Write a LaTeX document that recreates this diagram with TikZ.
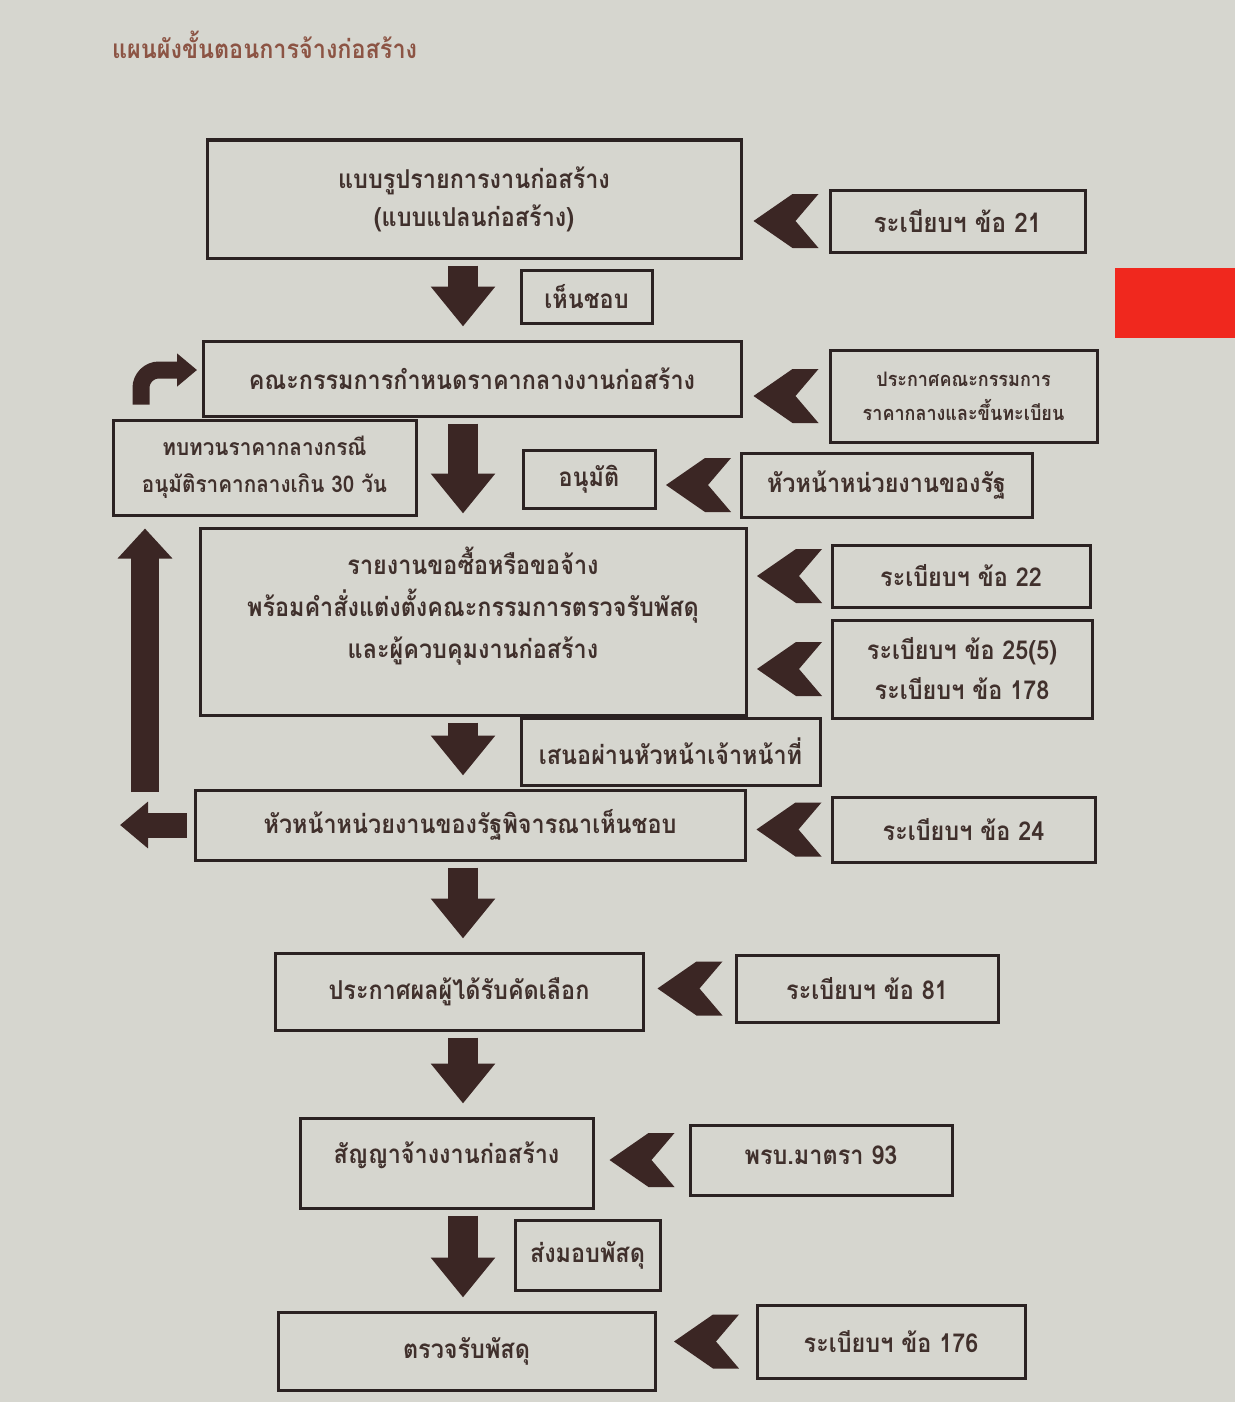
\documentclass[tikz,border=0pt]{standalone}
\usepackage{fontspec}
\newfontfamily\thai[Script=Thai, FakeStretch=0.9]{Loma}
\usetikzlibrary{arrows.meta,calc}
\definecolor{bg}{HTML}{D6D6CF}
\definecolor{linec}{HTML}{2B2222}
\definecolor{arrowc}{HTML}{3B2624}
\definecolor{textc}{HTML}{40302C}
\definecolor{titlec}{HTML}{8C5444}
\definecolor{redtab}{HTML}{F0281E}
\tikzset{
  box/.style={draw=linec, line width=1.5pt, fill=bg, align=center, inner sep=0pt, text=textc},
  boxtext/.style={align=center, inner sep=0pt, text=textc},
  downarrow/.style={draw=arrowc, line width=15pt, -{Triangle[width=31pt,length=20pt]}, shorten <=3pt, shorten >=6.5pt},
  uparrow/.style={draw=arrowc, line width=14pt, -{Triangle[width=26.5pt,length=15pt]}},
  leftarrow/.style={draw=arrowc, line width=12.5pt, -{Triangle[width=22.5pt,length=14pt]}},
  turnarrow/.style={draw=arrowc, line width=8.5pt, rounded corners=9pt, -{Triangle[width=16pt,length=10pt]}},
  chev/.pic={\fill[arrowc] (-32,0) -- (7,-27) -- (33,-27) -- (10,0) -- (33,27) -- (7,27) -- cycle;}
}
\begin{document}
\begin{tikzpicture}[x=0.5pt,y=-0.5pt, font=\thai\bfseries\fontsize{13}{19}\selectfont]
\fill[bg] (0,0) rectangle (1235,1402);
\useasboundingbox (0,0) rectangle (1235,1402);
\fill[redtab] (1115,268) rectangle (1235,338);

\node[anchor=west, text=titlec, font=\thai\bfseries\fontsize{13}{15}\selectfont] (title) at (105,45) {แผนผังขั้นตอนการจ้างก่อสร้าง};

% main column
\node[box, minimum width=267pt, minimum height=59pt] (box1) at (474,199) {แบบรูปรายการงานก่อสร้าง\\(แบบแปลนก่อสร้าง)};
\node[box, minimum width=269pt, minimum height=37.5pt] (box2) at (472,378.5) {คณะกรรมการกำหนดราคากลางงานก่อสร้าง};
\node[box, minimum width=273pt, minimum height=93.5pt] (box3) at (473,621.5) {};
\node[boxtext, font=\thai\bfseries\fontsize{13}{21}\selectfont] (box3t) at (473,606) {รายงานขอซื้อหรือขอจ้าง\\พร้อมคำสั่งแต่งตั้งคณะกรรมการตรวจรับพัสดุ\\และผู้ควบคุมงานก่อสร้าง};
\node[box, minimum width=275pt, minimum height=35pt] (box4) at (470,825) {หัวหน้าหน่วยงานของรัฐพิจารณาเห็นชอบ};
\node[box, minimum width=184pt, minimum height=38.5pt] (box5) at (459,991.5) {ประกาศผลผู้ได้รับคัดเลือก};
\node[box, minimum width=146.5pt, minimum height=45pt] (box6) at (446.5,1163) {};
\node[boxtext] (box6t) at (446.5,1155) {สัญญาจ้างงานก่อสร้าง};
\node[box, minimum width=188.5pt, minimum height=39pt] (box7) at (466.5,1351) {ตรวจรับพัสดุ};

% side boxes
\node[box, minimum width=151.5pt, minimum height=47.5pt, font=\thai\bfseries\fontsize{11.5}{18.5}\selectfont] (lb) at (264.5,467.5) {ทบทวนราคากลางกรณี\\อนุมัติราคากลางเกิน 30 วัน};
\node[box, minimum width=65.5pt, minimum height=26.5pt] (ok1) at (586.5,296.5) {เห็นชอบ};
\node[box, minimum width=66pt, minimum height=29pt] (appr) at (589,479) {อนุมัติ};
\node[box, minimum width=145.5pt, minimum height=32pt] (head) at (886.5,485) {หัวหน้าหน่วยงานของรัฐ};
\node[box, minimum width=149.5pt, minimum height=33.5pt] (prop) at (670.5,751.5) {เสนอผ่านหัวหน้าเจ้าหน้าที่};
\node[box, minimum width=72.5pt, minimum height=35pt] (deliv) at (587.5,1255) {ส่งมอบพัสดุ};

% rule boxes
\node[box, minimum width=127.5pt, minimum height=31pt, font=\thai\bfseries\fontsize{13.5}{19}\selectfont] (r1) at (957.5,221) {ระเบียบฯ ข้อ 21};
\node[box, minimum width=133.5pt, minimum height=46pt, font=\thai\bfseries\fontsize{10}{17}\selectfont] (r2) at (963.5,396) {ประกาศคณะกรรมการ\\ราคากลางและขึ้นทะเบียน};
\node[box, minimum width=129pt, minimum height=31pt] (r3) at (961,576) {ระเบียบฯ ข้อ 22};
\node[box, minimum width=130pt, minimum height=49pt, font=\thai\bfseries\fontsize{13}{20}\selectfont] (r4) at (962,669) {ระเบียบฯ ข้อ 25(5)\\ระเบียบฯ ข้อ 178};
\node[box, minimum width=131.5pt, minimum height=32.5pt] (r5) at (963.5,829.5) {ระเบียบฯ ข้อ 24};
\node[box, minimum width=131pt, minimum height=33.5pt] (r6) at (867,988.5) {ระเบียบฯ ข้อ 81};
\node[box, minimum width=131pt, minimum height=35pt] (r7) at (821,1160) {};
\node[boxtext] (r7t) at (821,1155) {พรบ.มาตรา 93};
\node[box, minimum width=134pt, minimum height=36.5pt] (r8) at (891,1341.5) {ระเบียบฯ ข้อ 176};

% chevrons
\pic at ($(box1.east |- r1.center)!0.5!(r1.west)$) {chev};
\pic at ($(box2.east |- r2.center)!0.5!(r2.west)$) {chev};
\pic at ($(appr.east |- head.center)!0.5!(head.west)$) {chev};
\pic at ($(box3.east |- r3.center)!0.5!(r3.west)$) {chev};
\pic at ($(box3.east |- r4.center)!0.5!(r4.west)$) {chev};
\pic at ($(box4.east |- r5.center)!0.5!(r5.west)$) {chev};
\pic at ($(box5.east |- r6.center)!0.5!(r6.west)$) {chev};
\pic at ($(box6.east |- r7.center)!0.5!(r7.west)$) {chev};
\pic at ($(box7.east |- r8.center)!0.5!(r8.west)$) {chev};

% axes for arrows
\coordinate (ax) at (463,0);
\coordinate (upx) at (145,0);
\coordinate (upstart) at (145,792);
\coordinate (leftend) at (120,825);
\coordinate (turnx) at (141,0);
\coordinate (turnend) at (203,370);

% down arrows
\draw[downarrow] (box1.south -| ax) -- (box2.north -| ax);
\draw[downarrow] (box2.south -| ax) -- (box3.north -| ax);
\draw[downarrow] (box3.south -| ax) -- (box4.north -| ax);
\draw[downarrow] (box4.south -| ax) -- (box5.north -| ax);
\draw[downarrow] (box5.south -| ax) -- (box6.north -| ax);
\draw[downarrow] (box6.south -| ax) -- (box7.north -| ax);

% loop back
\draw[leftarrow, shorten <=3.5pt] (box4.west) -- (leftend);
\draw[uparrow, shorten >=6pt] (upstart) -- (lb.south -| upx);
\draw[turnarrow, shorten <=7pt, shorten >=3pt] (lb.north -| turnx) |- (turnend);
\end{tikzpicture}
\end{document}
